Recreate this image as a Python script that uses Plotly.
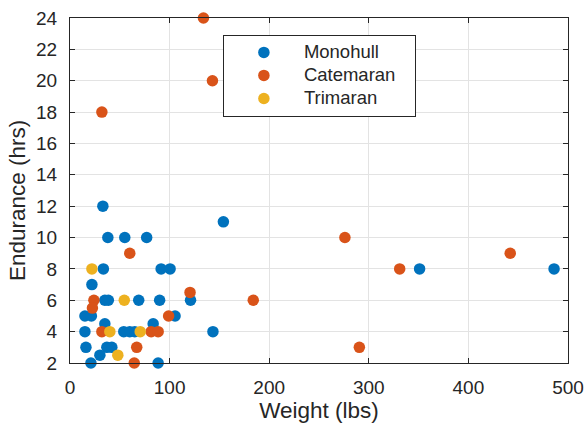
import plotly.graph_objects as go

# Data
mono_weight = [33, 38, 55, 77, 33.5, 91.5, 100.5, 22, 35, 38.5, 69, 90, 121, 15, 21.5, 105.5,
               35, 83.5, 15, 54, 60, 65, 143.5, 16, 37, 42, 30, 21, 88.5, 154, 351, 486]
mono_endurance = [12, 10, 10, 10, 8, 8, 8, 7, 6, 6, 6, 6, 6, 5, 5, 5,
                  4.5, 4.5, 4, 4, 4, 4, 4, 3, 3, 3, 2.5, 2, 2, 11, 8, 8]

cat_weight = [134, 143, 32, 276, 60, 442, 331, 120.5, 184, 24, 22.5, 99, 32, 81.5, 88.5, 67, 290.5, 64.5]
cat_endurance = [24, 20, 18, 10, 9, 9, 8, 6.5, 6, 6, 5.5, 5, 4, 4, 4, 3, 3, 2]

tri_weight = [22, 54.5, 40, 70.5, 48]
tri_endurance = [8, 6, 4, 4, 2.5]

x_ticks = [0, 100, 200, 300, 400, 500]
y_ticks = [2, 4, 6, 8, 10, 12, 14, 16, 18, 20, 22, 24]

FONT = "Liberation Sans, Arial, Helvetica, sans-serif"
TXT = "#262626"
PAD = "\u00a0\u00a0\u2009"

fig = go.Figure()
for name, xs, ys, col in [("Monohull", mono_weight, mono_endurance, "#0072BD"),
                          ("Catemaran", cat_weight, cat_endurance, "#D95319"),
                          ("Trimaran", tri_weight, tri_endurance, "#EDB120")]:
    fig.add_trace(go.Scatter(x=xs, y=ys, mode="markers",
                             name='<span style="font-size:18.5px">' + name + PAD + "</span>",
                             marker=dict(color=col, size=11.5, line=dict(width=0)),
                             cliponaxis=False))

axis_common = dict(showline=True, mirror="ticks", linecolor=TXT, linewidth=1,
                   ticks="inside", ticklen=5, tickcolor=TXT, tickwidth=1,
                   showgrid=True, gridcolor="#e3e3e3", gridwidth=1, zeroline=False,
                   automargin=False, ticklabeloverflow="allow",
                   tickfont=dict(family=FONT, size=19, color=TXT),
                   title_font=dict(family=FONT, size=22.5, color=TXT))

fig.update_xaxes(range=[0, 500], tickvals=x_ticks, title_text="Weight (lbs)",
                 title_standoff=2, ticklabelstandoff=7, **axis_common)
fig.update_yaxes(range=[2, 24], tickvals=y_ticks, ticklabelstandoff=8, **axis_common)

fig.add_annotation(text="Endurance (hrs)", textangle=-90, showarrow=False,
                   xref="paper", yref="paper", x=-0.104, y=0.47,
                   xanchor="center", yanchor="middle",
                   font=dict(family=FONT, size=22.5, color=TXT))

fig.update_layout(
    width=584, height=425,
    margin=dict(l=70, r=16, t=18, b=62),
    paper_bgcolor="white", plot_bgcolor="white",
    font=dict(family=FONT, color=TXT),
    legend=dict(x=0.307, y=0.951, xanchor="left", yanchor="top",
                bgcolor="white", bordercolor=TXT, borderwidth=1,
                font=dict(family=FONT, size=15.4, color=TXT),
                itemwidth=70, tracegroupgap=0,
                traceorder="normal"),
)

fig.write_html("out.html", config={"displayModeBar": False},
               post_script="document.body.style.margin='0';")
